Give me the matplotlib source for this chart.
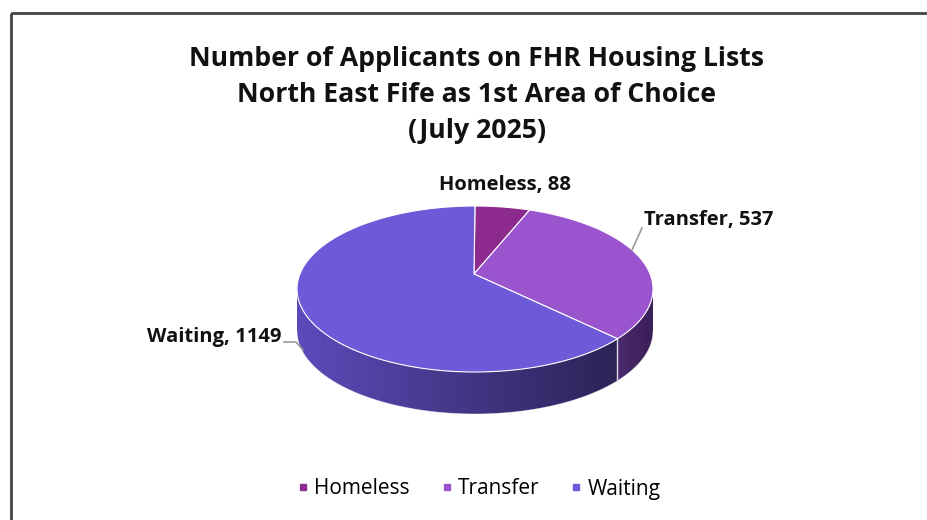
import numpy as np
import matplotlib
matplotlib.use('Agg')
import matplotlib.pyplot as plt
from matplotlib.patches import Polygon, Rectangle
from matplotlib.lines import Line2D

# data
categories = ['Homeless', 'Transfer', 'Waiting']
values = [88, 537, 1149]
top_colors = ['#8C2A8E', '#9A55CE', '#6E5AD9']
side_colors = [('#5A1A5C', '#3A1040'), ('#4A2A6E', '#3A1F58'), ('#5C4BBB', '#2A2456')]
title = 'Number of Applicants on FHR Housing Lists\nNorth East Fife as 1st Area of Choice\n(July 2025)'

W, H = 928, 520
fig = plt.figure(figsize=(W / 100, H / 100), dpi=100)
ax = fig.add_axes([0, 0, 1, 1])
ax.set_xlim(0, W)
ax.set_ylim(H, 0)
ax.axis('off')

plt.rcParams['font.family'] = ['Open Sans', 'DejaVu Sans']

# chart border
ax.add_patch(Rectangle((11, 13), 940, 540, fill=False, edgecolor='#444444', lw=2))

ax.text(477, 95, title, ha='center', va='center', fontsize=19.2, fontweight='bold',
        linespacing=1.5, color='#111111')

# pie geometry (pixels)
cx, cy = 475, 289
a, b = 178, 83
depth = 42
apex = (474, 274)


def ell(t):
    t = np.radians(t)
    return cx + a * np.sin(t), cy - b * np.cos(t)


total = float(sum(values))
angles = np.concatenate([[0], np.cumsum(values) / total * 360])

# sides (front half only: 90..270 deg)
for i in range(len(values)):
    t0, t1 = max(angles[i], 90), min(angles[i + 1], 270)
    if t1 <= t0:
        continue
    ts = np.linspace(t0, t1, 200)
    xs, ys = ell(ts)
    pts = np.column_stack([np.concatenate([xs, xs[::-1]]),
                           np.concatenate([ys, ys[::-1] + depth])])
    poly = Polygon(pts, closed=True, facecolor='none', edgecolor='none')
    ax.add_patch(poly)
    c0 = np.array(matplotlib.colors.to_rgb(side_colors[i][0]))
    c1 = np.array(matplotlib.colors.to_rgb(side_colors[i][1]))
    x0, x1 = xs.min(), xs.max()
    grad = np.linspace(0, 1, 256)
    img = c0[None, :] * (1 - grad[:, None]) + c1[None, :] * grad[:, None]
    im = ax.imshow(img[None, :, :], extent=[x0, x1, ys.max() + depth + 2, ys.min() - 2],
                   aspect='auto', zorder=2)
    im.set_clip_path(poly)
    ax.plot(xs, ys + depth, color='white', lw=0.6, alpha=0.5, zorder=3)

# boundary edge line on side between Transfer and Waiting
bx, by = ell(angles[2])
ax.plot([bx, bx], [by, by + depth], color='#dddddd', lw=1, zorder=3)

# top faces
for i in range(len(values)):
    ts = np.linspace(angles[i], angles[i + 1], 300)
    xs, ys = ell(ts)
    pts = np.column_stack([np.concatenate([[apex[0]], xs]), np.concatenate([[apex[1]], ys])])
    ax.add_patch(Polygon(pts, closed=True, facecolor=top_colors[i], edgecolor='white',
                         lw=0.8, zorder=4))

# data labels
lab_kw = dict(fontsize=14.5, fontweight='bold', color='#111111', va='center')
ax.text(505, 185, f'{categories[0]}, {values[0]}', ha='center', **lab_kw)
ax.text(644, 220, f'{categories[1]}, {values[1]}', ha='left', **lab_kw)
ax.text(282, 337, f'{categories[2]}, {values[2]}', ha='right', **lab_kw)
ax.plot([642, 632], [228, 250], color='#999999', lw=1.2, zorder=5)
ax.plot([284, 296, 303], [342, 342, 350], color='#999999', lw=1.2, zorder=5)

# legend
handles = [Line2D([0], [0], marker='s', ls='', color=c, markersize=5) for c in top_colors]
ax.legend(handles, categories, loc='center', bbox_to_anchor=(474 / W, 1 - 489 / H),
          ncol=3, frameon=False, fontsize=15, handletextpad=-0.2, columnspacing=1.0,
          handlelength=1.5)

fig.savefig('out.png', dpi=100, facecolor='white')
